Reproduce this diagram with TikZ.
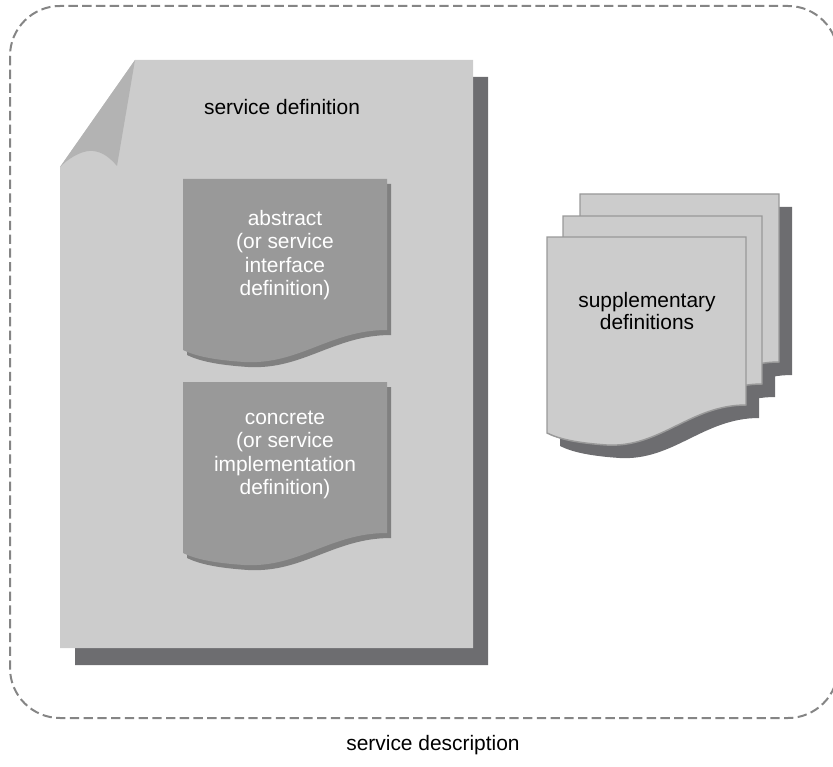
\documentclass[tikz,border=0pt]{standalone}
\usepackage{fontspec}
\setmainfont{Liberation Sans}
\usetikzlibrary{positioning}

\definecolor{pagegray}{HTML}{CCCCCC}
\definecolor{foldgray}{HTML}{B3B3B3}
\definecolor{shadowgray}{HTML}{6D6D70}
\definecolor{docgray}{HTML}{999999}
\definecolor{docshadow}{HTML}{808080}
\definecolor{framegray}{HTML}{858585}

% sheet with a wavy lower edge: width, right height, left height
\newcommand{\wavesheet}[3]{(0,0) -- (#1,0) -- (#1,#2) .. controls ({0.72*#1},#2) and ({0.57*#1},{#3+15}) .. ({0.3*#1},{#3+12}) .. controls ({0.15*#1},{#3+10}) and ({0.06*#1},{#3+6}) .. (0,#3) -- cycle}

\begin{document}
\begin{tikzpicture}[x=0.75pt,y=-0.75pt]
            \tikzstyle{plaintext} = [font=\fontsize{15.7}{16.3}\selectfont, align=center, inner sep=0pt]
            \tikzstyle{doclabel} = [plaintext, text=white, font=\fontsize{15.7}{17.6}\selectfont]
            \tikzstyle{sheet} = [fill=pagegray, draw=docgray, line width=1.1pt]

            \useasboundingbox (0,0) rectangle (833,767);

            % Frame
            \draw [framegray, line width=1.5pt, dash pattern=on 7pt off 3.3pt, rounded corners=37.5pt] (10,6) rectangle (838,718);

            % Service definition page
            \fill [shadowgray] (75,184) -- (150,77) -- (488,77) -- (488,665) -- (75,665) -- cycle;
            \fill [pagegray] (60,167) -- (135,60) -- (473,60) -- (473,648) -- (60,648) -- cycle;
            \fill [foldgray] (60,167) -- (135,60) -- (117,166) .. controls (110,158) and (103,152) .. (93,151) .. controls (85,150) and (72,155) .. (60,167) -- cycle;

            % Inner documents
            \fill [docshadow, shift={(187,184)}] \wavesheet{204}{151}{171};
            \fill [docgray, shift={(183,179)}] \wavesheet{204}{151}{171};
            \fill [docshadow, shift={(187,387)}] \wavesheet{204}{151}{171};
            \fill [docgray, shift={(183,382)}] \wavesheet{204}{151}{171};

            % Supplementary stack
            \foreach \sx/\sy in {580/194, 563/216, 547/237}
                \fill [shadowgray, shift={(\sx+13,\sy+13)}] \wavesheet{199}{168}{196};
            \foreach \sx/\sy in {580/194, 563/216, 547/237}
                \filldraw [sheet, shift={(\sx,\sy)}] \wavesheet{199}{168}{196};

            % Nodes
            \node (servdef) [plaintext] at (282,107) {service definition};
            \node (abstract) [doclabel] at (285,255) {abstract\\(or service\\interface\\definition)};
            \node (concrete) [doclabel] at (285,455) {concrete\\(or service\\implementation\\definition)};
            \node (supp) [plaintext] at (647,311) {supplementary\\definitions};
            \node (servdesc) [plaintext] at (433,745) {service description};
        \end{tikzpicture}
\end{document}
